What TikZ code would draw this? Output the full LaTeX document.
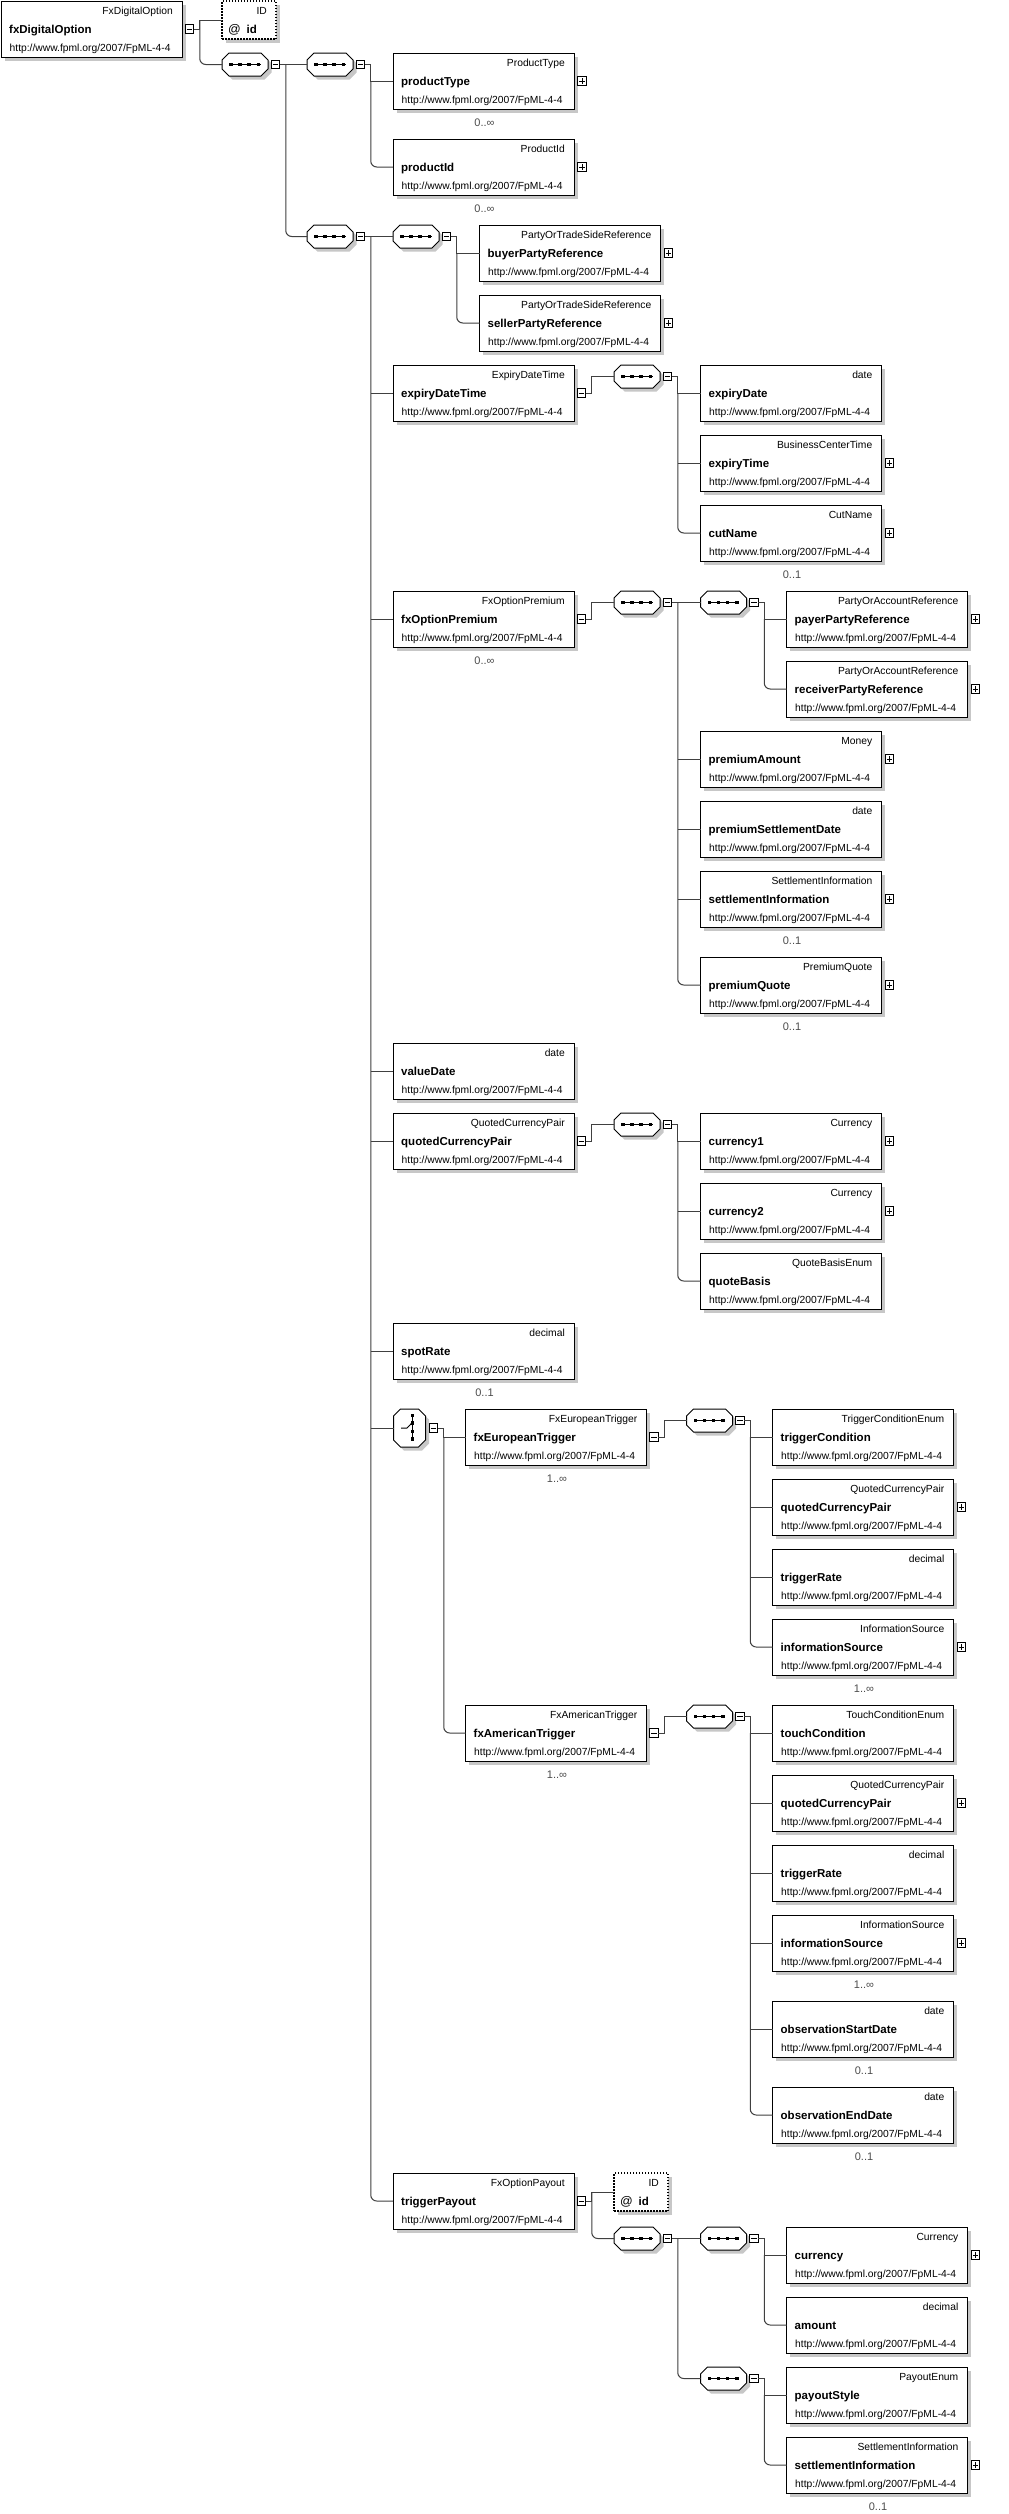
\documentclass[tikz,border=0pt]{standalone}
\usepackage{fontspec}
\setmainfont{Liberation Sans}
\usetikzlibrary{calc}
\tikzset{
  shadowc/.style={fill=black!22},
  elbox/.style={draw=black, line width=1pt, fill=white, minimum width=181pt, minimum height=56pt, inner sep=0pt, outer sep=0pt, anchor=north west},
  idbox/.style={draw=black, dash pattern=on 1.5pt off 1.5pt, line width=1.1pt, fill=white, minimum width=54pt, minimum height=38pt, inner sep=0pt, outer sep=0pt, anchor=north west},
  seqnode/.style={minimum width=46pt, minimum height=23pt, inner sep=0pt, outer sep=0pt, anchor=north west},
  chnode/.style={minimum width=32pt, minimum height=38pt, inner sep=0pt, outer sep=0pt, anchor=north west},
  typel/.style={font=\fontsize{10.3}{12}\selectfont, inner sep=0pt, anchor=base east},
  namel/.style={font=\fontsize{11.5}{13}\selectfont\bfseries, inner sep=0pt, anchor=base west},
  atl/.style={font=\fontsize{12.5}{14}\selectfont, inner sep=0pt, anchor=base west},
  urll/.style={font=\fontsize{10.3}{12}\selectfont, inner sep=0pt, anchor=base west},
  occl/.style={font=\fontsize{11}{13}\selectfont, text=black!70, inner sep=0pt, anchor=base},
  pmst/.style={draw=black, line width=0.9pt, fill=white, minimum size=8.5pt, inner sep=0pt, outer sep=0pt},
  conn/.style={draw=black!75, line width=1pt},
}
\newcommand{\elt}[5]{%
 \begin{scope}[shift={(#2,#3)}]
  \fill[shadowc] (3.5,3.5) rectangle (184.5,59.5);
  \node[elbox] (#1) at (0,0) {};
  \node[typel] (#1-t) at (172,13.5) {#4};
  \node[namel] (#1-n) at (8,32) {#5};
  \node[urll] (#1-u) at (8.5,50) {http://www.fpml.org/2007/FpML-4-4};
 \end{scope}}
\newcommand{\idb}[3]{%
 \begin{scope}[shift={(#2,#3)}]
  \fill[shadowc] (3.5,3.5) rectangle (57.5,41.5);
  \node[idbox] (#1) at (0,0) {};
  \node[typel] (#1-t) at (45,13.5) {ID};
  \node[atl] (#1-a) at (6,32) {@};
  \node[namel] (#1-n) at (24.5,32) {id};
 \end{scope}}
\newcommand{\mnus}[2]{\node[pmst] (#1) at (#2) {};
  \draw[line width=0.9pt] ($(#1.center)+(-2.6,0)$) -- ($(#1.center)+(2.6,0)$);}
\newcommand{\plusb}[2]{\node[pmst] (#1) at (#2) {};
  \draw[line width=0.9pt] ($(#1.center)+(-2.6,0)$) -- ($(#1.center)+(2.6,0)$)
     ($(#1.center)+(0,-2.6)$) -- ($(#1.center)+(0,2.6)$);}
\newcommand{\emin}[1]{\mnus{#1-m}{$(#1.east)+(7.5,0)$}}
\newcommand{\eplus}[1]{\plusb{#1-p}{$(#1.east)+(8,0)$}}
\newcommand{\occ}[2]{\node[occl] (#1-o) at ($(#1.south)+(1,17)$) {#2};}
\newcommand{\seqb}[3]{%
 \begin{scope}[shift={(#2,#3)}]
  \fill[shadowc] (10.5,3.5) -- (42.5,3.5) -- (49.5,10.5) -- (49.5,19.5) -- (42.5,26.5) -- (10.5,26.5) -- (3.5,19.5) -- (3.5,10.5) -- cycle;
  \node[seqnode] (#1) at (0,0) {};
  \draw[line width=1pt, fill=white] (7,0) -- (39,0) -- (46,7) -- (46,16) -- (39,23) -- (7,23) -- (0,16) -- (0,7) -- cycle;
  \draw[line width=1pt] (7.5,11.5) -- (38.5,11.5);
  \foreach \ox in {9,18,27,36.3} {\fill (\ox-1.7,11.5-1.7) rectangle ++(3.4,3.4);}
  \mnus{#1-m}{53.5,11.5}
 \end{scope}}
\newcommand{\chb}[3]{%
 \begin{scope}[shift={(#2,#3)}]
  \fill[shadowc] (10.5,3.5) -- (28.5,3.5) -- (35.5,10.5) -- (35.5,34.5) -- (28.5,41.5) -- (10.5,41.5) -- (3.5,34.5) -- (3.5,10.5) -- cycle;
  \node[chnode] (#1) at (0,0) {};
  \draw[line width=1pt, fill=white] (7,0) -- (25,0) -- (32,7) -- (32,31) -- (25,38) -- (7,38) -- (0,31) -- (0,7) -- cycle;
  \draw[line width=1pt] (18.7,6.4) -- (18.7,30);
  \foreach \oy in {6.4,14,22.4,30} {\fill (18.7-1.7,\oy-1.7) rectangle ++(3.4,3.4);}
  \draw[line width=1pt] (7.7,19) -- (13.5,19) -- (18.7,13.7);
  \mnus{#1-m}{40,19}
 \end{scope}}
\newcommand{\grp}[3]{%
  \coordinate (bx) at ($(#1.east)+(6,0)$);
  \draw[conn] (#1.east) -| (bx |- #2.west) -- (#2.west);
  \draw[conn, rounded corners=6pt] (bx |- #2.west) |- (#3.west);}
\newcommand{\grpone}[2]{%
  \coordinate (bx) at ($(#1.east)+(6,0)$);
  \draw[conn] (#1.east) -| (bx |- #2.west) -- (#2.west);}
\newcommand{\midc}[1]{\draw[conn] (bx |- #1.west) -- (#1.west);}
\begin{document}
\begin{tikzpicture}[x=1pt,y=-1pt]
\fill[white] (0,0) rectangle (1009,2514);
\useasboundingbox (0,0) rectangle (1009,2514);

\elt{root}{1}{1}{FxDigitalOption}{fxDigitalOption}\emin{root}
\idb{idA}{222}{1}
\seqb{s1}{222}{53}
\seqb{s2}{307}{53}
\elt{pt}{393}{53}{ProductType}{productType}\eplus{pt}\occ{pt}{0..∞}
\elt{pid}{393}{139}{ProductId}{productId}\eplus{pid}\occ{pid}{0..∞}
\seqb{sA}{307}{225}
\seqb{sB}{393}{225}
\elt{buy}{479.5}{225}{PartyOrTradeSideReference}{buyerPartyReference}\eplus{buy}
\elt{sell}{479.5}{295}{PartyOrTradeSideReference}{sellerPartyReference}\eplus{sell}
\elt{edt}{393}{365}{ExpiryDateTime}{expiryDateTime}\emin{edt}
\seqb{sC}{614}{365}
\elt{ed}{700.5}{365}{date}{expiryDate}
\elt{et}{700.5}{435}{BusinessCenterTime}{expiryTime}\eplus{et}
\elt{cn}{700.5}{505}{CutName}{cutName}\eplus{cn}\occ{cn}{0..1}
\elt{fop}{393}{591}{FxOptionPremium}{fxOptionPremium}\emin{fop}\occ{fop}{0..∞}
\seqb{sD}{614}{591}
\seqb{sE}{700.5}{591}
\elt{pay}{786.5}{591}{PartyOrAccountReference}{payerPartyReference}\eplus{pay}
\elt{rec}{786.5}{661}{PartyOrAccountReference}{receiverPartyReference}\eplus{rec}
\elt{pa}{700.5}{731}{Money}{premiumAmount}\eplus{pa}
\elt{psd}{700.5}{801}{date}{premiumSettlementDate}
\elt{si}{700.5}{871}{SettlementInformation}{settlementInformation}\eplus{si}\occ{si}{0..1}
\elt{pq}{700.5}{957}{PremiumQuote}{premiumQuote}\eplus{pq}\occ{pq}{0..1}
\elt{vd}{393}{1043}{date}{valueDate}
\elt{qcp}{393}{1113}{QuotedCurrencyPair}{quotedCurrencyPair}\emin{qcp}
\seqb{sF}{614}{1113}
\elt{cA}{700.5}{1113}{Currency}{currency1}\eplus{cA}
\elt{cB}{700.5}{1183}{Currency}{currency2}\eplus{cB}
\elt{qb}{700.5}{1253}{QuoteBasisEnum}{quoteBasis}
\elt{sr}{393}{1323}{decimal}{spotRate}\occ{sr}{0..1}
\chb{ch}{393.5}{1409}
\elt{fet}{465.5}{1409}{FxEuropeanTrigger}{fxEuropeanTrigger}\emin{fet}\occ{fet}{1..∞}
\seqb{sG}{686.5}{1409}
\elt{tc}{772.5}{1409}{TriggerConditionEnum}{triggerCondition}
\elt{eqcp}{772.5}{1479}{QuotedCurrencyPair}{quotedCurrencyPair}\eplus{eqcp}
\elt{etr}{772.5}{1549}{decimal}{triggerRate}
\elt{eis}{772.5}{1619}{InformationSource}{informationSource}\eplus{eis}\occ{eis}{1..∞}
\elt{fat}{465.5}{1705}{FxAmericanTrigger}{fxAmericanTrigger}\emin{fat}\occ{fat}{1..∞}
\seqb{sH}{686.5}{1705}
\elt{tch}{772.5}{1705}{TouchConditionEnum}{touchCondition}
\elt{aqcp}{772.5}{1775}{QuotedCurrencyPair}{quotedCurrencyPair}\eplus{aqcp}
\elt{atr}{772.5}{1845}{decimal}{triggerRate}
\elt{ais}{772.5}{1915}{InformationSource}{informationSource}\eplus{ais}\occ{ais}{1..∞}
\elt{osd}{772.5}{2001}{date}{observationStartDate}\occ{osd}{0..1}
\elt{oed}{772.5}{2087}{date}{observationEndDate}\occ{oed}{0..1}
\elt{tp}{393}{2173}{FxOptionPayout}{triggerPayout}\emin{tp}
\idb{idB}{614}{2173}
\seqb{sI}{614}{2227}
\seqb{sJ}{700.5}{2227}
\elt{cur}{786.5}{2227}{Currency}{currency}\eplus{cur}
\elt{amt}{786.5}{2297}{decimal}{amount}
\seqb{sK}{700.5}{2367}
\elt{ps}{786.5}{2367}{PayoutEnum}{payoutStyle}
\elt{psi}{786.5}{2437}{SettlementInformation}{settlementInformation}\eplus{psi}\occ{psi}{0..1}

% connectors
\grp{root-m}{idA}{s1}
\grp{s1-m}{s2}{sA}
\grp{s2-m}{pt}{pid}
\grp{sA-m}{sB}{tp}\midc{edt}\midc{fop}\midc{vd}\midc{qcp}\midc{sr}\midc{ch}
\grp{sB-m}{buy}{sell}
\grpone{edt-m}{sC}
\grp{sC-m}{ed}{cn}\midc{et}
\grpone{fop-m}{sD}
\grp{sD-m}{sE}{pq}\midc{pa}\midc{psd}\midc{si}
\grp{sE-m}{pay}{rec}
\grpone{qcp-m}{sF}
\grp{sF-m}{cA}{qb}\midc{cB}
\grp{ch-m}{fet}{fat}
\grpone{fet-m}{sG}
\grp{sG-m}{tc}{eis}\midc{eqcp}\midc{etr}
\grpone{fat-m}{sH}
\grp{sH-m}{tch}{oed}\midc{aqcp}\midc{atr}\midc{ais}\midc{osd}
\grp{tp-m}{idB}{sI}
\grp{sI-m}{sJ}{sK}
\grp{sJ-m}{cur}{amt}
\grp{sK-m}{ps}{psi}
\end{tikzpicture}
\end{document}
